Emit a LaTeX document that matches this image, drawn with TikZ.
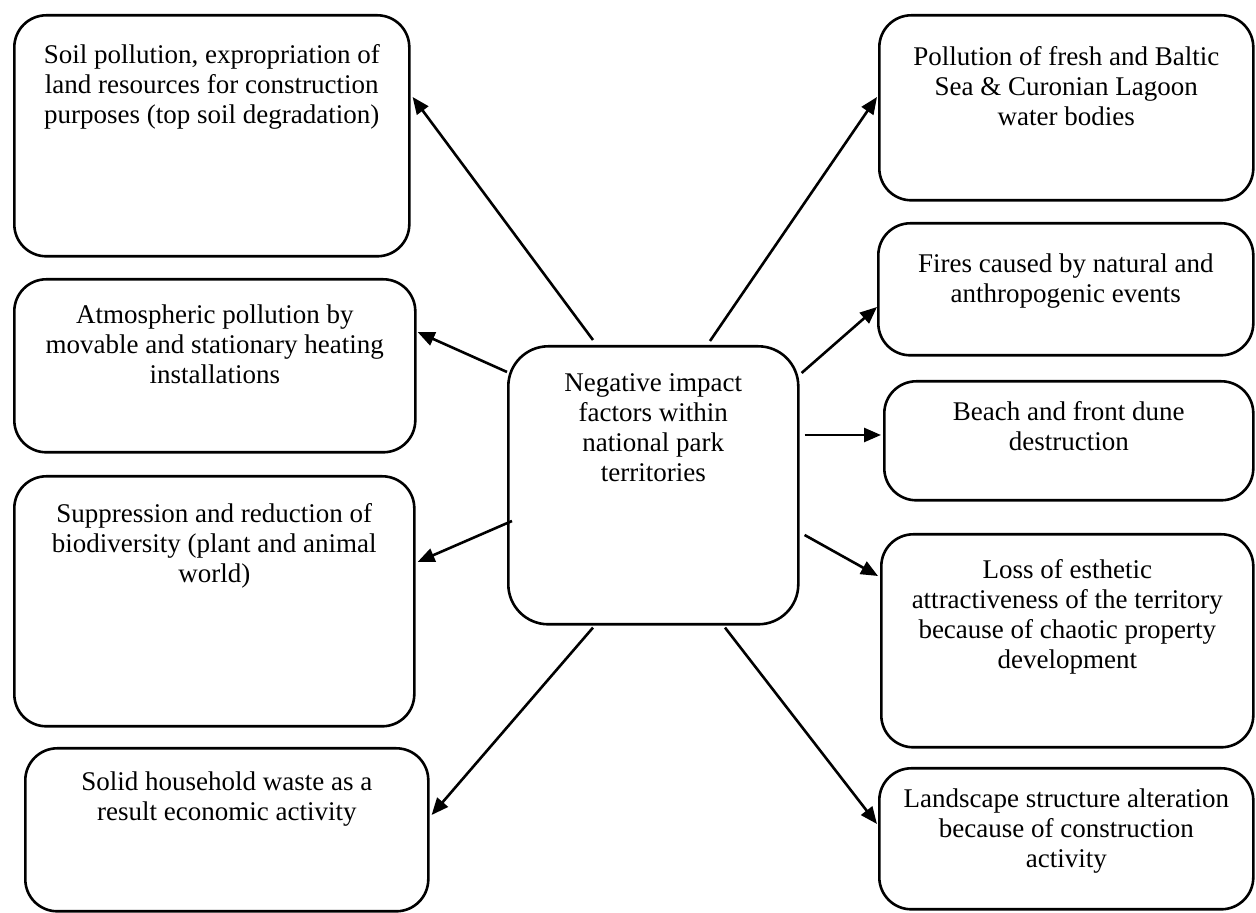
\documentclass[tikz,border=0pt]{standalone}
\usepackage{fontspec}
\setmainfont{Liberation Serif}
\usetikzlibrary{arrows.meta}
\begin{document}
\begin{tikzpicture}[x=1pt,y=1pt,
  box/.style={draw=black,line width=2.6pt,rounded corners=32pt,inner sep=0pt,anchor=north west},
  cbox/.style={box,rounded corners=40pt},
  txt/.style={anchor=north,align=center,inner sep=0pt,font=\fontsize{27}{30}\selectfont},
  arr/.style={line width=2.6pt,-{Triangle[length=17pt,width=14pt]}}]
\useasboundingbox (0,0) rectangle (1256,913);
% boxes (y = 913 - image y)
\node[box,minimum width=395pt,minimum height=241pt] (soil) at (13,899) {};
\node[box,minimum width=401pt,minimum height=173pt] (atmos) at (13,635) {};
\node[box,minimum width=400pt,minimum height=250pt] (supp) at (13,438) {};
\node[box,minimum width=403pt,minimum height=163pt] (solid) at (24,166) {};
\node[cbox,minimum width=290pt,minimum height=278pt] (c) at (507,568) {};
\node[box,minimum width=374pt,minimum height=185pt] (poll) at (878,899) {};
\node[box,minimum width=375pt,minimum height=132pt] (fires) at (877,691) {};
\node[box,minimum width=369pt,minimum height=119pt] (beach) at (883,533) {};
\node[box,minimum width=372pt,minimum height=213pt] (loss) at (880,380) {};
\node[box,minimum width=374pt,minimum height=141pt] (land) at (878,146) {};
% texts
\node[txt] (soilt) at ([yshift=-30.5pt]soil.north) {Soil pollution, expropriation of\\land resources for construction\\purposes (top soil degradation)};
\node[txt] (atmost) at ([yshift=-26.5pt]atmos.north) {Atmospheric pollution by\\movable and stationary heating\\installations};
\node[txt] (suppt) at ([yshift=-28.5pt]supp.north) {Suppression and reduction of\\biodiversity (plant and animal\\world)};
\node[txt] (solidt) at ([yshift=-24.5pt]solid.north) {Solid household waste as a\\result economic activity};
\node[txt] (ct) at ([yshift=-28.5pt]c.north) {Negative impact\\factors within\\national park\\territories};
\node[txt] (pollt) at ([yshift=-32.5pt]poll.north) {Pollution of fresh and Baltic\\Sea \& Curonian Lagoon\\water bodies};
\node[txt] (firest) at ([yshift=-31.5pt]fires.north) {Fires caused by natural and\\anthropogenic events};
\node[txt] (beacht) at ([yshift=-21.5pt]beach.north) {Beach and front dune\\destruction};
\node[txt] (losst) at ([yshift=-26.5pt]loss.north) {Loss of esthetic\\attractiveness of the territory\\because of chaotic property\\development};
\node[txt] (landt) at ([yshift=-21.5pt]land.north) {Landscape structure alteration\\because of construction\\activity};
% arrows
\draw[arr] ([xshift=86pt,yshift=5pt]c.north west) -- ([xshift=2pt,yshift=-83pt]soil.north east);
\draw[arr] ([yshift=-27pt]c.north west) -- ([xshift=1pt,yshift=-54pt]atmos.north east);
\draw[arr] ([xshift=5pt,yshift=-176pt]c.north west) -- ([xshift=2pt,yshift=-87pt]supp.north east);
\draw[arr] ([xshift=86pt,yshift=-2pt]c.south west) -- ([xshift=2pt,yshift=-68pt]solid.north east);
\draw[arr] ([xshift=218pt,yshift=-2pt]c.south west) -- ([xshift=-1pt,yshift=-57pt]land.north west);
\draw[arr] ([xshift=203pt,yshift=4pt]c.north west) -- ([xshift=-1pt,yshift=-83pt]poll.north west);
\draw[arr] ([xshift=2pt,yshift=-28pt]c.north east) -- ([yshift=-85pt]fires.north west);
\draw[arr] ([xshift=5pt,yshift=-90pt]c.north east) -- ([xshift=-2pt,yshift=-55pt]beach.north west);
\draw[arr] ([xshift=5pt,yshift=-190pt]c.north east) -- ([xshift=-2pt,yshift=-43pt]loss.north west);
\end{tikzpicture}
\end{document}
